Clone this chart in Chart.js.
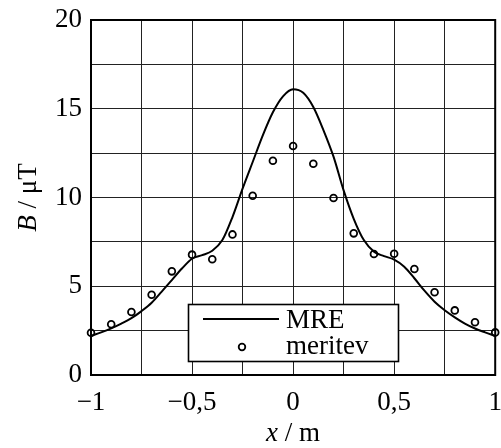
<!DOCTYPE html>
<html><head><meta charset="utf-8">
<script src="https://cdn.jsdelivr.net/npm/chart.js@4"></script>
<style>html,body{margin:0;padding:0;background:#fff}#wrap{width:501px;height:448px}</style>
</head><body><div id="wrap"><canvas id="c" width="501" height="448"></canvas></div>
<script>
const mreX = [-1,-0.95,-0.9,-0.85,-0.8,-0.75,-0.7,-0.65,-0.6,-0.55,-0.5,-0.45,-0.4,-0.35,-0.3,-0.25,-0.2,-0.15,-0.1,-0.05,0,0.05,0.1,0.15,0.2,0.25,0.3,0.35,0.4,0.45,0.5,0.55,0.6,0.65,0.7,0.75,0.8,0.85,0.9,0.95,1];
const mreB = [2.2,2.4,2.63,2.9,3.2,3.6,4.07,4.7,5.35,6.0,6.55,6.75,7.0,7.6,8.9,10.5,12.0,13.5,14.8,15.7,16.1,15.9,15.1,13.8,12.3,10.4,8.8,7.6,6.95,6.7,6.5,6.1,5.45,4.75,4.13,3.65,3.25,2.9,2.62,2.4,2.2];
const measX = [-1,-0.9,-0.8,-0.7,-0.6,-0.5,-0.4,-0.3,-0.2,-0.1,0,0.1,0.2,0.3,0.4,0.5,0.6,0.7,0.8,0.9,1];
const measB = [2.38,2.86,3.55,4.52,5.84,6.78,6.52,7.92,10.1,12.07,12.9,11.9,9.97,7.98,6.82,6.83,5.97,4.66,3.64,2.97,2.4];
const xTickLabels = {"-1":"−1","-0.5":"−0,5","0":"0","0.5":"0,5","1":"1"};
const yTickLabels = {"0":"0","5":"5","10":"10","15":"15","20":"20"};
const legendLabels = ["MRE","meritev"];

const FONT = "'Liberation Serif', 'Times New Roman', serif";
const FS = 27;

const overlay = {
  id:'overlay',
  afterDraw(chart){
    const ctx = chart.ctx, a = chart.chartArea;
    ctx.save();
    ctx.strokeStyle='#000'; ctx.lineWidth=2;
    ctx.strokeRect(a.left, a.top, a.right-a.left, a.bottom-a.top);
    const lx=188.5, ly=304.5, lw=210, lh=57;
    ctx.fillStyle='#fff'; ctx.fillRect(lx,ly,lw,lh);
    ctx.lineWidth=1.6; ctx.strokeRect(lx,ly,lw,lh);
    ctx.lineWidth=2; ctx.beginPath(); ctx.moveTo(203,319); ctx.lineTo(279,319); ctx.stroke();
    ctx.lineWidth=1.8; ctx.beginPath(); ctx.arc(242,347,3.3,0,Math.PI*2); ctx.stroke();
    ctx.fillStyle='#000'; ctx.font = FS+"px "+FONT; ctx.textBaseline='middle'; ctx.textAlign='left';
    ctx.fillText(legendLabels[0], 286, 321);
    ctx.fillText(legendLabels[1], 286, 347);
    ctx.textBaseline='alphabetic';
    const xi = "x", xr = " / m";
    ctx.font = "italic "+FS+"px "+FONT; const w1 = ctx.measureText(xi).width;
    ctx.font = FS+"px "+FONT; const w2 = ctx.measureText(xr).width;
    let sx = 293 - (w1+w2)/2;
    ctx.font = "italic "+FS+"px "+FONT; ctx.fillText(xi, sx, 441);
    ctx.font = FS+"px "+FONT; ctx.fillText(xr, sx+w1, 441);
    ctx.translate(36, 197.5); ctx.rotate(-Math.PI/2);
    const yi = "B", yr = " / μT";
    ctx.font = "italic "+FS+"px "+FONT; const v1 = ctx.measureText(yi).width;
    ctx.font = FS+"px "+FONT; const v2 = ctx.measureText(yr).width;
    let sy = -(v1+v2)/2;
    ctx.font = "italic "+FS+"px "+FONT; ctx.fillText(yi, sy, 0);
    ctx.font = FS+"px "+FONT; ctx.fillText(yr, sy+v1, 0);
    ctx.restore();
  }
};

new Chart(document.getElementById('c'), {
  type:'line',
  data:{datasets:[
    {label:legendLabels[0], data: mreX.map((x,i)=>({x, y:mreB[i]})), borderColor:'#000', borderWidth:2, pointRadius:0, fill:false, cubicInterpolationMode:'monotone', order:2},
    {label:legendLabels[1], data: measX.map((x,i)=>({x, y:measB[i]})), showLine:false, clip:false, pointStyle:'circle', pointRadius:3.4, pointBorderWidth:1.8, pointBorderColor:'#000', pointBackgroundColor:'rgba(0,0,0,0)', order:1}
  ]},
  options:{
    responsive:false, animation:false, devicePixelRatio:1,
    layout:{padding:{left:0,right:5,top:20,bottom:0}},
    plugins:{legend:{display:false}, tooltip:{enabled:false}},
    scales:{
      x:{type:'linear', min:-1, max:1,
        afterFit(s){ s.height = 73; s.paddingLeft = 0; s.paddingRight = 0; },
        grid:{color:'#222', lineWidth:1, drawTicks:false},
        border:{display:false},
        ticks:{stepSize:0.25, autoSkip:false, maxRotation:0, padding:12, color:'#000', font:{family:FONT, size:FS},
          callback:(v)=>{ const k=String(Math.round(v*100)/100); return xTickLabels[k]!==undefined?xTickLabels[k]:''; }}
      },
      y:{min:0, max:20,
        afterFit(s){ s.width = 91; s.paddingTop = 0; s.paddingBottom = 0; },
        grid:{color:'#222', lineWidth:1, drawTicks:false},
        border:{display:false},
        ticks:{stepSize:2.5, autoSkip:false, padding:9, color:'#000', font:{family:FONT, size:FS},
          callback:(v)=>{ const k=String(v); return yTickLabels[k]!==undefined?yTickLabels[k]:''; }}
      }
    }
  },
  plugins:[overlay]
});
</script>
</body></html>
